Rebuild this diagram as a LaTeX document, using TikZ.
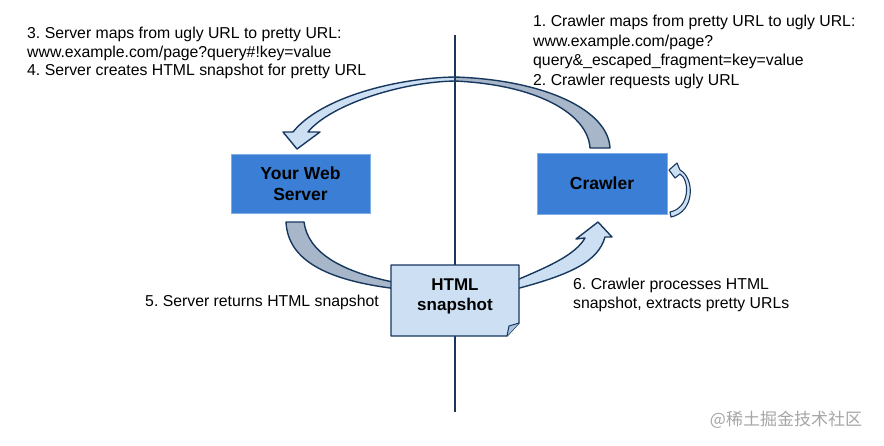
\documentclass[tikz,border=0pt]{standalone}
\usepackage{fontspec}
\setmainfont{Liberation Sans}
\newfontfamily\cjkfont{Noto Sans CJK SC}
\definecolor{navy}{HTML}{17375E}
\definecolor{boxblue}{HTML}{3A7FD5}
\definecolor{boxedge}{HTML}{7FAEE6}
\definecolor{lightfill}{HTML}{CDE0F3}
\definecolor{greyfill}{HTML}{A7B7C9}
\definecolor{foldfill}{HTML}{A9C4E0}
\frenchspacing
\begin{document}
\begin{tikzpicture}[x=1pt,y=-1pt,
  server/.style={fill=boxblue, draw=boxedge, line width=0.8pt, inner sep=0pt,
    font=\bfseries\fontsize{17.5}{21}\selectfont, align=center, text=black},
  note/.style={font=\fontsize{15.8}{18.3}\selectfont, align=left, inner sep=0pt, anchor=base west},
  band/.style={draw=navy, line width=1.4pt, line join=round},
]
\fill[white] (0,0) rectangle (884,445);
\useasboundingbox (0,0) rectangle (884,445);

% top curved arrow: grey back part (from crawler)
\path[band, fill=greyfill] (590,148) -- (610,148)
  .. controls (608,110) and (545,80) .. (455,77) -- (455,81)
  .. controls (540,85) and (588,115) .. (590,148) -- cycle;
% top curved arrow: light front part with head
\path[band, fill=lightfill] (455,77)
  .. controls (395,78) and (320,98) .. (293,132)
  -- (283,132) -- (297,149) -- (320,132) -- (308,132)
  .. controls (330,105) and (400,82) .. (455,81) -- cycle;

% bottom-left band (server to snapshot)
\path[band, fill=greyfill] (286,222) -- (304,222)
  .. controls (308,252) and (340,272) .. (398,283) -- (398,289)
  .. controls (330,281) and (288,262) .. (286,222) -- cycle;

% bottom-right arrow (snapshot to crawler)
\path[band, fill=lightfill] (512,282)
  .. controls (550,266) and (575,255) .. (585,238)
  -- (576,239) -- (598,222) -- (612,237) -- (605,237)
  .. controls (598,262) and (570,275) .. (512,290) -- cycle;

% crawler self loop
\path[draw=navy, line width=1.1pt, line join=round, fill=lightfill] (671,217)
  .. controls (695,212) and (695,178) .. (680,170)
  -- (677,163) -- (669,170) -- (675,178) -- (680,174)
  .. controls (690,180) and (690,208) .. (670,212) -- cycle;

% boxes
\node[server, minimum width=139pt, minimum height=59pt] (web) at (300.5,183.5) {Your Web\\Server};
\node[server, minimum width=130pt, minimum height=61pt] (crawler) at (602,183.5) {Crawler};

% divider
\coordinate (vtop) at (455,35);
\coordinate (vbot) at (455,412);
\draw[navy, line width=1.4pt] (vtop) -- (vbot);

% snapshot document
\path[band, fill=lightfill] (391,265) -- (519,265) -- (519,323) -- (507,336) -- (391,336) -- cycle;
\path[draw=navy, line width=1pt, line join=round, fill=foldfill] (519,323) -- (509,326) -- (507,336);
\node[font=\bfseries\fontsize{17}{20}\selectfont, align=center, inner sep=0pt] (snap) at (455,296) {HTML\\snapshot};

% texts (base anchor = baseline of last line)
\node[note] (tl) at (27,75.5) {3. Server maps from ugly URL to pretty URL:\\www.example.com/page?query\#!key=value\\4. Server creates HTML snapshot for pretty URL};
\node[note, font=\fontsize{15.8}{19.5}\selectfont] (tr) at (533,85) {1. Crawler maps from pretty URL to ugly URL:\\www.example.com/page?\\query\&\_escaped\_fragment=key=value\\2. Crawler requests ugly URL};
\node[note, anchor=base east] (bl) at (379,306) {5. Server returns HTML snapshot};
\node[note] (br) at (573,308) {6. Crawler processes HTML\\snapshot, extracts pretty URLs};
\node[font=\cjkfont\fontsize{17}{19}\selectfont, text=black!35, inner sep=0pt] (wm) at (786,420) {@稀土掘金技术社区};
\end{tikzpicture}
\end{document}
